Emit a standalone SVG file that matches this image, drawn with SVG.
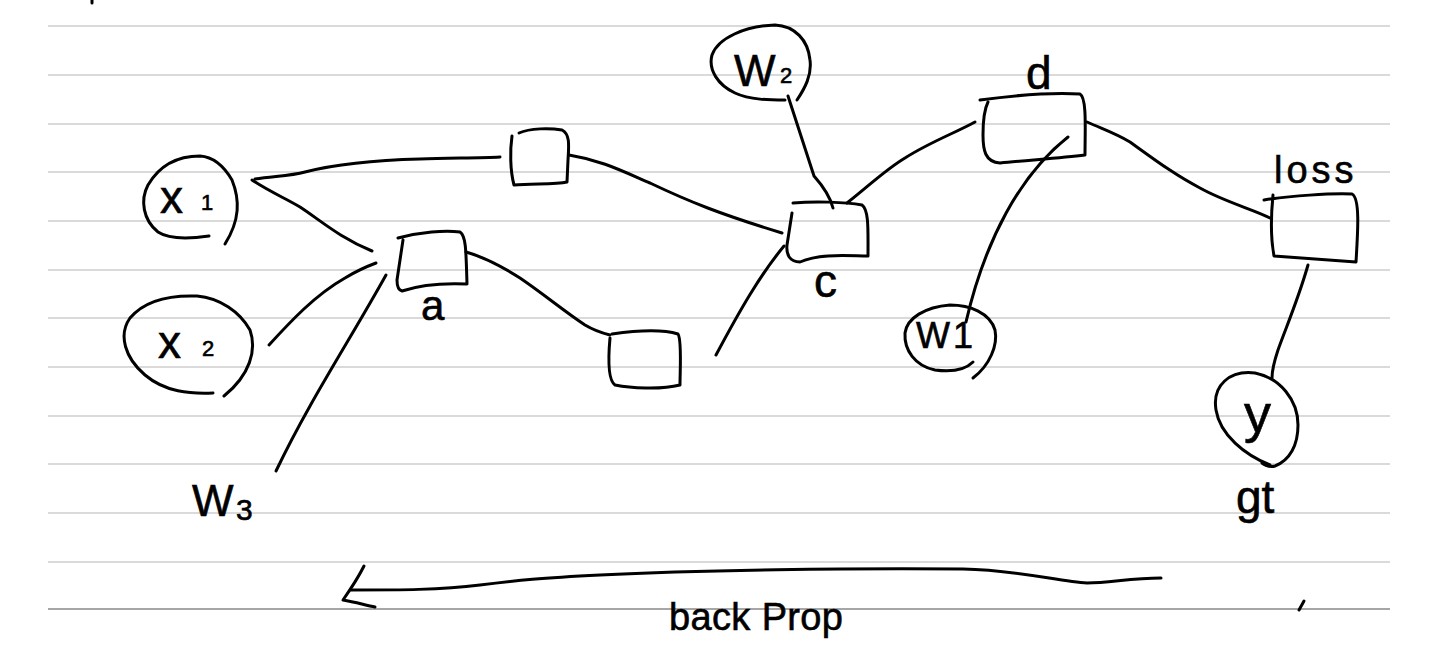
<svg xmlns="http://www.w3.org/2000/svg" width="1440" height="649" viewBox="0 0 1440 649">
<style>
.ink{fill:none;stroke:#000;stroke-width:3;stroke-linecap:round;stroke-linejoin:round}
.rule{stroke:#dadada;stroke-width:2}
.rule2{stroke:#a6a6a6;stroke-width:2}
.hand{font-family:"Liberation Sans","DejaVu Sans",sans-serif;fill:#000;stroke:#000;stroke-width:0.6}
</style>
<rect width="1440" height="649" fill="#fff"/>
<g id="paper">
<line class="rule" x1="48" y1="26" x2="1390" y2="26"/>
<line class="rule" x1="48" y1="75" x2="1390" y2="75"/>
<line class="rule" x1="48" y1="124" x2="1390" y2="124"/>
<line class="rule" x1="48" y1="172" x2="1390" y2="172"/>
<line class="rule" x1="48" y1="221" x2="1390" y2="221"/>
<line class="rule" x1="48" y1="270" x2="1390" y2="270"/>
<line class="rule" x1="48" y1="318" x2="1390" y2="318"/>
<line class="rule" x1="48" y1="367" x2="1390" y2="367"/>
<line class="rule" x1="48" y1="416" x2="1390" y2="416"/>
<line class="rule" x1="48" y1="464" x2="1390" y2="464"/>
<line class="rule" x1="48" y1="513" x2="1390" y2="513"/>
<line class="rule" x1="48" y1="562" x2="1390" y2="562"/>
<line class="rule2" x1="48" y1="609" x2="1390" y2="609"/>
<path class="ink" d="M92,0 L92,3"/>
<path class="ink" d="M1304,601 L1299,610"/>
</g>
<g id="connectors">
<path class="ink" d="M255,179 C275,176 290,176 305,172 C340,163 380,160 420,159 C450,158 480,158 500,157"/>
<path class="ink" d="M252,180 C270,192 285,198 300,207 C320,220 340,238 372,251"/>
<path class="ink" d="M269,345 C290,322 315,295 345,278 C358,270 368,266 376,263"/>
<path class="ink" d="M276,471 C310,400 350,340 386,275"/>
<path class="ink" d="M466,252 C480,256 495,262 520,278 C545,295 565,312 585,325 C595,331 602,333 610,335"/>
<path class="ink" d="M569,155 C600,160 620,170 650,183 C690,202 720,214 782,233"/>
<path class="ink" d="M784,246 C760,275 740,310 716,355"/>
<path class="ink" d="M788,96 L814,176 C822,185 830,196 833,208"/>
<path class="ink" d="M847,203 C870,185 885,170 905,158 C930,142 955,133 975,122"/>
<path class="ink" d="M1068,137 C1020,175 985,240 966,322"/>
<path class="ink" d="M1087,122 C1105,130 1115,133 1130,142 C1155,160 1175,175 1200,188 C1225,202 1255,210 1270,218"/>
<path class="ink" d="M1308,265 C1298,300 1285,330 1278,350 C1273,365 1272,372 1272,378"/>
</g>
<g id="node-x1">
<path class="ink" d="M209,236 C195,238 170,240 158,232 C143,220 140,200 148,185 C158,168 175,156 200,156 C215,157 225,168 232,180 C240,200 240,220 225,244"/>
<text class="hand" x="160" y="213" font-size="46">x</text>
<text class="hand" x="201" y="210" font-size="22">1</text>
</g>
<g id="node-x2">
<path class="ink" d="M213,393 C190,394 165,392 145,375 C125,358 118,335 130,318 C145,300 170,295 197,296 C220,298 240,312 250,330 C257,350 250,375 224,396"/>
<text class="hand" x="158" y="358" font-size="46">x</text>
<text class="hand" x="202" y="356" font-size="22">2</text>
</g>
<g id="node-top">
<path class="ink" d="M519,133 C530,128 550,128 562,130 C570,134 569,145 568,160 L567,182 C555,185 530,183 514,185 C510,170 510,150 512,136"/>
</g>
<g id="node-a">
<path class="ink" d="M398,238 C420,232 445,230 460,232 C466,236 466,250 467,284 C445,283 420,285 402,291 C398,290 397,285 397,280 L403,240"/>
<text class="hand" x="421" y="320" font-size="42">a</text>
</g>
<g id="node-bottom">
<path class="ink" d="M612,334 C640,330 665,330 678,334 C682,340 680,370 680,385 C660,390 630,388 615,385 C608,380 608,360 610,338"/>
</g>
<g id="node-w2">
<path class="ink" d="M785,100 C770,100 750,100 735,93 C718,85 708,70 712,55 C718,38 745,26 775,25 C795,26 808,40 810,60 C812,75 805,88 797,100"/>
<text class="hand" x="734" y="86" font-size="44">W</text>
<text class="hand" x="780" y="83" font-size="22">2</text>
</g>
<g id="node-c">
<path class="ink" d="M793,203 C815,201 845,202 862,205 C869,210 868,230 868,256 C850,256 820,253 800,262 C790,262 786,255 787,245 L792,213"/>
<text class="hand" x="814" y="297" font-size="46">c</text>
</g>
<g id="node-d">
<path class="ink" d="M980,100 C1010,96 1050,92 1080,94 C1087,98 1085,130 1085,155 C1060,158 1030,160 1000,163 C985,162 983,150 983,135 C983,120 985,108 988,102"/>
<text class="hand" x="1026" y="89" font-size="46">d</text>
</g>
<g id="node-w1">
<path class="ink" d="M973,362 C965,370 950,372 935,370 C915,366 904,350 905,333 C907,318 925,307 950,305 C970,305 990,313 995,330 C998,345 990,365 973,378"/>
<text class="hand" x="916" y="348" font-size="36" letter-spacing="3">W1</text>
</g>
<g id="node-loss">
<path class="ink" d="M1264,200 C1290,196 1330,193 1352,194 C1360,198 1358,230 1356,262 C1330,260 1300,258 1274,256 C1271,240 1271,215 1273,195"/>
<text class="hand" x="1274" y="183" font-size="38" letter-spacing="4">loss</text>
</g>
<g id="node-y">
<path class="ink" d="M1270,465 C1245,455 1220,435 1216,410 C1212,385 1230,370 1255,373 C1280,378 1298,400 1298,425 C1298,445 1290,460 1275,466 C1268,468 1262,463 1262,463"/>
<text class="hand" x="1244" y="432" font-size="54">y</text>
<text class="hand" x="1236" y="513" font-size="46">gt</text>
</g>
<g id="node-w3">
<text class="hand" x="192" y="516" font-size="44">W</text>
<text class="hand" x="236" y="520" font-size="30">3</text>
</g>
<g id="backprop">
<path class="ink" d="M1161,578 C1130,578 1110,583 1087,583 C1060,582 1020,570 963,569 C850,568 700,570 600,575 C540,578 520,580 480,585 C440,590 400,590 351,590"/>
<path class="ink" d="M364,566 C358,578 350,590 343,600 C355,602 365,605 375,607"/>
<text class="hand" x="669" y="630" font-size="38" textLength="174" lengthAdjust="spacing">back Prop</text>
</g>
</svg>
